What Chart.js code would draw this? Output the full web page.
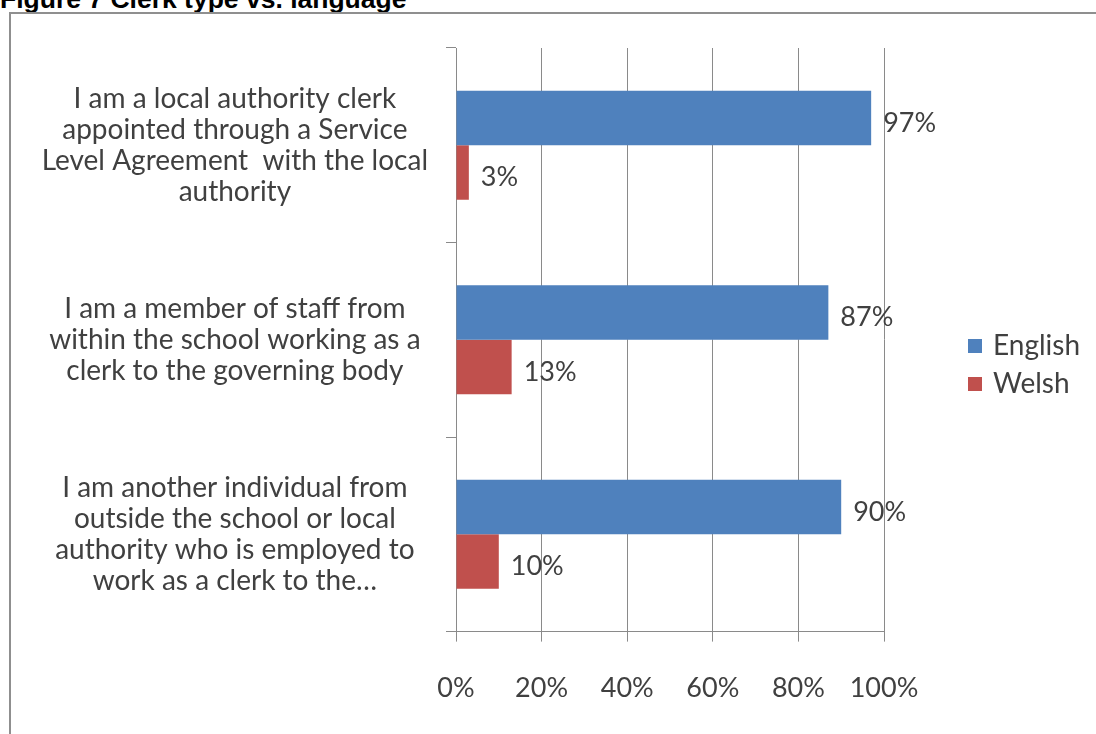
<!DOCTYPE html>
<html>
<head>
<meta charset="utf-8">
<script src="https://cdn.jsdelivr.net/npm/chart.js@4.4.1/dist/chart.umd.min.js"></script>
<style>
    html, body { margin: 0; padding: 0; background: #fff; overflow: hidden; }
    #wrap { position: relative; width: 1096px; height: 734px; }
    #title {
        position: absolute; left: 0; top: -14px;
        font: bold 26.5px "Liberation Sans", Arial, sans-serif;
        line-height: 26px; color: #000; white-space: nowrap;
    }
    #frame {
        position: absolute; left: 9px; top: 12px; width: 1200px; height: 800px;
        border: 2px solid #8f8f8f; box-sizing: border-box;
    }
    #chart { position: absolute; left: 0; top: 0; }
</style>
</head>
<body>
<div id="wrap">
    <div id="title">Figure 7 Clerk type vs. language</div>
    <div id="frame"></div>
    <canvas id="chart" width="1096" height="734"></canvas>
</div>
<script>
// Categories (wrapped the way they appear on the axis)
const clerkTypes = [
    ['I am a local authority clerk', 'appointed through a Service', 'Level Agreement  with the local', 'authority'],
    ['I am a member of staff from', 'within the school working as a', 'clerk to the governing body'],
    ['I am another individual from', 'outside the school or local', 'authority who is employed to', 'work as a clerk to the\u2026']
];

// Percent of respondents in each language
const englishPct = [97, 87, 90];
const welshPct = [3, 13, 10];

const xTicks = [0, 20, 40, 60, 80, 100];

const FONT = 'Lato, "Open Sans", sans-serif';
const TEXT_COLOR = '#404040';
const GRID_COLOR = '#8a8a8a';

// Value labels just past the end of each bar
const barLabels = {
    id: 'barLabels',
    afterDatasetsDraw(chart) {
        const ctx = chart.ctx;
        ctx.save();
        ctx.font = '27px ' + FONT;
        ctx.fillStyle = TEXT_COLOR;
        ctx.textAlign = 'left';
        ctx.textBaseline = 'middle';
        chart.data.datasets.forEach((ds, i) => {
            chart.getDatasetMeta(i).data.forEach((bar, j) => {
                ctx.fillText(ds.data[j] + '%', bar.x + 12, bar.y + 5);
            });
        });
        ctx.restore();
    }
};

// Legend to the right of the plot, square swatches
const sideLegend = {
    id: 'sideLegend',
    afterDraw(chart) {
        const ctx = chart.ctx;
        const area = chart.chartArea;
        const x = area.right + 84;
        let y = area.top + 298;
        ctx.save();
        ctx.font = '28px ' + FONT;
        ctx.textAlign = 'left';
        ctx.textBaseline = 'middle';
        chart.data.datasets.forEach(ds => {
            ctx.fillStyle = ds.backgroundColor;
            ctx.fillRect(x, y - 7, 14, 14);
            ctx.fillStyle = TEXT_COLOR;
            ctx.fillText(ds.label, x + 25, y);
            y += 38;
        });
        ctx.restore();
    }
};

const ctx = document.getElementById('chart').getContext('2d');
new Chart(ctx, {
    type: 'bar',
    data: {
        labels: clerkTypes,
        datasets: [
            { label: 'English', data: englishPct, backgroundColor: '#4f81bd' },
            { label: 'Welsh', data: welshPct, backgroundColor: '#c0504d' }
        ]
    },
    options: {
        indexAxis: 'y',
        responsive: false,
        animation: false,
        categoryPercentage: 0.56,
        barPercentage: 1,
        layout: { padding: { top: 48, right: 212, bottom: 0, left: 0 } },
        scales: {
            x: {
                min: 0,
                max: 100,
                afterBuildTicks(scale) {
                    scale.ticks = xTicks.map(v => ({ value: v }));
                },
                grid: { color: GRID_COLOR, lineWidth: 1, tickLength: 10 },
                border: { color: GRID_COLOR },
                ticks: {
                    padding: 30,
                    color: TEXT_COLOR,
                    font: { family: FONT, size: 27 },
                    callback: v => v + '%'
                }
            },
            y: {
                grid: { drawOnChartArea: false, color: GRID_COLOR, tickLength: 10 },
                border: { color: GRID_COLOR },
                ticks: {
                    padding: 18,
                    crossAlign: 'center',
                    color: TEXT_COLOR,
                    font: { family: FONT, size: 28, lineHeight: 1.107 }
                },
                afterFit(scale) {
                    scale.width = 456;
                    scale.paddingTop = 0;
                    scale.paddingBottom = 0;
                }
            }
        },
        plugins: {
            legend: { display: false },
            tooltip: { enabled: false }
        }
    },
    plugins: [barLabels, sideLegend]
});
</script>
</body>
</html>
